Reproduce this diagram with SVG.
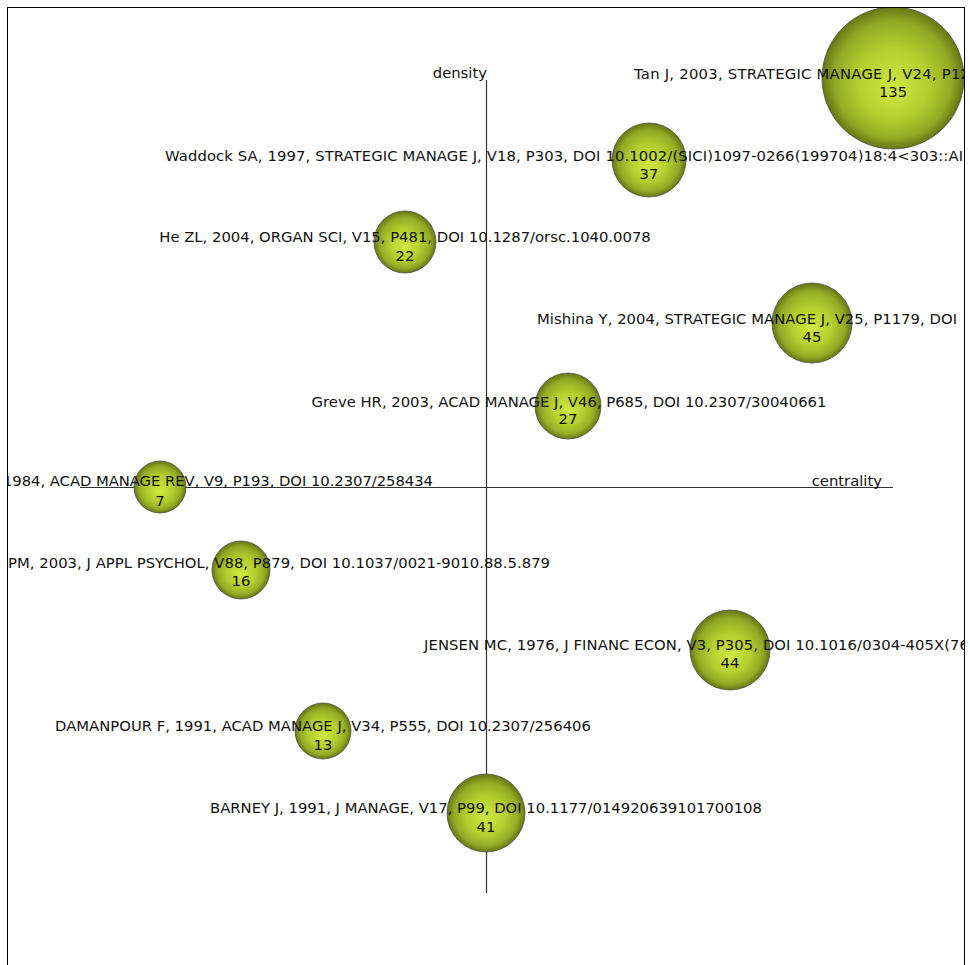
<svg xmlns="http://www.w3.org/2000/svg" width="970" height="965" viewBox="0 0 970 965">
<style>
.lbl{font-family:"DejaVu Sans",Verdana,sans-serif;font-size:14.8px;fill:#111}
.num{font-family:"DejaVu Sans",Verdana,sans-serif;font-size:14.8px;fill:#111;text-anchor:middle}
.mid{text-anchor:middle}
.end{text-anchor:end}
.node circle{fill:url(#g);stroke:#4a4a4a;stroke-width:1;stroke-opacity:0.75}
.axis{stroke:#333;stroke-width:1.2;fill:none}
</style>
<defs>
<radialGradient id="g" cx="50%" cy="50%" r="50%" fx="50%" fy="58%">
<stop offset="0%" stop-color="#d0e842"/>
<stop offset="50%" stop-color="#b3ce2e"/>
<stop offset="82%" stop-color="#93aa24"/>
<stop offset="100%" stop-color="#667614"/>
</radialGradient>
<clipPath id="frame"><rect x="7.5" y="7.5" width="957" height="960"/></clipPath>
</defs>
<rect x="0" y="0" width="970" height="965" fill="#fff"/>
<g clip-path="url(#frame)">
<g id="connectors">
<line class="axis" x1="486.5" y1="80" x2="486.5" y2="893"/>
<line class="axis" x1="80" y1="487.5" x2="893" y2="487.5"/>
</g>
<text class="lbl end" x="487" y="78">density</text>
<text class="lbl end" x="882" y="486">centrality</text>
<g id="n-tan" class="node"><circle cx="893" cy="78" r="71"/></g>
<g id="n-waddock" class="node"><circle cx="649" cy="160" r="37"/></g>
<g id="n-he" class="node"><circle cx="405" cy="242" r="31"/></g>
<g id="n-mishina" class="node"><circle cx="812" cy="323" r="40"/></g>
<g id="n-greve" class="node"><circle cx="568" cy="406" r="33"/></g>
<g id="n-1984" class="node"><circle cx="160" cy="487" r="26"/></g>
<g id="n-pm" class="node"><circle cx="241" cy="570" r="29"/></g>
<g id="n-jensen" class="node"><circle cx="730" cy="650" r="40"/></g>
<g id="n-damanpour" class="node"><circle cx="323" cy="731" r="28"/></g>
<g id="n-barney" class="node"><circle cx="486" cy="813" r="39"/></g>
<g id="labels">
<text class="lbl" x="634" y="79" textLength="336" lengthAdjust="spacing">Tan J, 2003, STRATEGIC MANAGE J, V24, P12</text>
<text class="num" x="893" y="97">135</text>
<text class="lbl" x="165" y="161" textLength="798" lengthAdjust="spacing">Waddock SA, 1997, STRATEGIC MANAGE J, V18, P303, DOI 10.1002/(SICI)1097-0266(199704)18:4&lt;303::AI</text>
<text class="num" x="649" y="179">37</text>
<text class="lbl mid" x="405" y="242">He ZL, 2004, ORGAN SCI, V15, P481, DOI 10.1287/orsc.1040.0078</text>
<text class="num" x="405" y="261">22</text>
<text class="lbl" x="537" y="324" textLength="420" lengthAdjust="spacing">Mishina Y, 2004, STRATEGIC MANAGE J, V25, P1179, DOI</text>
<text class="num" x="812" y="342">45</text>
<text class="lbl mid" x="569" y="407">Greve HR, 2003, ACAD MANAGE J, V46, P685, DOI 10.2307/30040661</text>
<text class="num" x="568" y="424">27</text>
<text class="lbl" x="3" y="486" textLength="430" lengthAdjust="spacing">1984, ACAD MANAGE REV, V9, P193, DOI 10.2307/258434</text>
<text class="num" x="160" y="506">7</text>
<text class="lbl" x="8" y="568" textLength="542" lengthAdjust="spacing">PM, 2003, J APPL PSYCHOL, V88, P879, DOI 10.1037/0021-9010.88.5.879</text>
<text class="num" x="241" y="586">16</text>
<text class="lbl" x="424" y="650" textLength="545" lengthAdjust="spacing">JENSEN MC, 1976, J FINANC ECON, V3, P305, DOI 10.1016/0304-405X(76</text>
<text class="num" x="730" y="668">44</text>
<text class="lbl mid" x="323" y="731">DAMANPOUR F, 1991, ACAD MANAGE J, V34, P555, DOI 10.2307/256406</text>
<text class="num" x="323" y="750">13</text>
<text class="lbl mid" x="486" y="813">BARNEY J, 1991, J MANAGE, V17, P99, DOI 10.1177/014920639101700108</text>
<text class="num" x="486" y="832">41</text>
</g>
</g>
<rect x="7.5" y="7.5" width="957" height="970" fill="none" stroke="#000" stroke-width="1"/>
</svg>
